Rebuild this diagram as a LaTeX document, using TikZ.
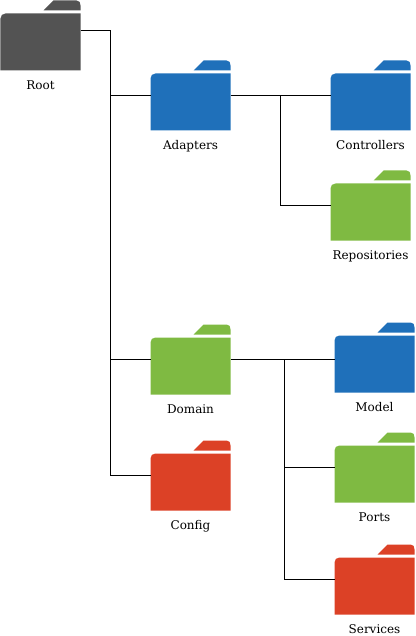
\documentclass[tikz,border=0pt]{standalone}
\usepackage{fontspec}
\setmainfont{DejaVu Serif}
\usepackage{xcolor}
\definecolor{folderdark}{HTML}{535353}
\definecolor{folderblue}{HTML}{1F70BA}
\definecolor{foldergreen}{HTML}{7FBA42}
\definecolor{folderred}{HTML}{DC4126}
\tikzset{
  x=1pt,y=-1pt,
  folder/.style={rectangle,inner sep=0pt,outer sep=0pt,minimum width=80pt,minimum height=70pt,
    path picture={
      \fill[#1] (3,-25) -- (13,-35) -- (36,-35) .. controls (39,-35) and (40,-33) .. (40,-30) -- (40,-25) -- cycle; % lasche
      \fill[#1] (-40,35) -- (-40,-17) .. controls (-40,-20) and (-38,-22) .. (-35,-22) -- (40,-22) -- (40,35) -- cycle; % mappe
    }},
  caption/.style={font=\fontsize{12}{14}\selectfont,inner sep=0pt,text height=9pt,text depth=0pt},
  wire/.style={draw=black,line width=1pt}
}
\begin{document}
\begin{tikzpicture}
\useasboundingbox (-0.5,-0.5) rectangle (414.5,635.5);

\node[folder=folderdark] (root) at (40,35) {};
\node[folder=folderblue] (adapters) at (190,95) {};
\node[folder=folderblue] (controllers) at (370,95) {};
\node[folder=foldergreen] (repositories) at (370,205) {};
\node[folder=foldergreen] (domain) at (190,359) {};
\node[folder=folderred] (config) at (190,475) {};
\node[folder=folderblue] (model) at (374,357) {};
\node[folder=foldergreen] (ports) at (374,467) {};
\node[folder=folderred] (services) at (374,579) {};

\node[caption] (rootlabel) at (40,85) {Root};
\node[caption] (adapterslabel) at (190,145) {Adapters};
\node[caption] (controllerslabel) at (370,145) {Controllers};
\node[caption] (repositorieslabel) at (370,254.5) {Repositories};
\node[caption] (domainlabel) at (190,408.5) {Domain};
\node[caption] (configlabel) at (190,524.5) {Config};
\node[caption] (modellabel) at (374,406.5) {Model};
\node[caption] (portslabel) at (374,516.5) {Ports};
\node[caption] (serviceslabel) at (374,628) {Services};

\coordinate (rootbus) at (110,475);
\coordinate (adaptersbus) at (280,205);
\coordinate (domainbus) at (284,579);

\draw[wire] ([yshift=5pt]root.east) -| (rootbus) -- (config.west);
\draw[wire] (rootbus |- adapters.west) -- (adapters.west);
\draw[wire] (rootbus |- domain.west) -- (domain.west);

\draw[wire] (adapters.east) -- (controllers.west);
\draw[wire] (adaptersbus |- controllers.west) -- (adaptersbus) -- (repositories.west);

\draw[wire] (domain.east) -- (domain.east -| model.west);
\draw[wire] (domainbus |- domain.east) -- (domainbus) -- (services.west);
\draw[wire] (domainbus |- ports.west) -- (ports.west);

\end{tikzpicture}
\end{document}
